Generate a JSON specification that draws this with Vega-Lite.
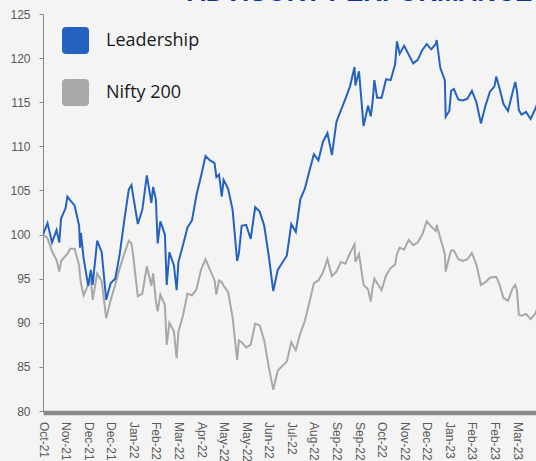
{
  "$schema": "https://vega.github.io/schema/vega-lite/v6.json",
  "width": 493,
  "height": 397,
  "autosize": "none",
  "padding": {"left": 43, "top": 14, "right": 0, "bottom": 50},
  "background": "#f4f4f4",
  "config": {"view": {"stroke": null}},
  "title": {"text": "ADVISORY PERFORMANCE", "anchor": "start", "frame": "group", "dx": 144, "offset": 2, "font": "Liberation Sans", "fontSize": 26, "fontWeight": "bold", "color": "#0b35a0"},
  "data": {"values": [
    {"d":"2021-10-14","Leadership":100.0,"Nifty 200":100.0},
    {"d":"2021-10-19","Leadership":101.3,"Nifty 200":99.6},
    {"d":"2021-10-24","Leadership":99.1,"Nifty 200":98.1},
    {"d":"2021-10-29","Leadership":100.5,"Nifty 200":97.1},
    {"d":"2021-11-01","Leadership":99.1,"Nifty 200":95.8},
    {"d":"2021-11-03","Leadership":101.8,"Nifty 200":97.0},
    {"d":"2021-11-08","Leadership":103.0,"Nifty 200":97.6},
    {"d":"2021-11-10","Leadership":104.3,"Nifty 200":97.8},
    {"d":"2021-11-13","Leadership":103.9,"Nifty 200":98.4},
    {"d":"2021-11-18","Leadership":103.3,"Nifty 200":98.4},
    {"d":"2021-11-23","Leadership":101.0,"Nifty 200":96.5},
    {"d":"2021-11-24","Leadership":98.5,"Nifty 200":95.3},
    {"d":"2021-11-25","Leadership":100.2,"Nifty 200":94.5},
    {"d":"2021-11-28","Leadership":97.3,"Nifty 200":93.1},
    {"d":"2021-12-03","Leadership":94.2,"Nifty 200":94.3},
    {"d":"2021-12-06","Leadership":96.0,"Nifty 200":95.0},
    {"d":"2021-12-08","Leadership":94.3,"Nifty 200":92.6},
    {"d":"2021-12-13","Leadership":99.3,"Nifty 200":95.6},
    {"d":"2021-12-18","Leadership":98.0,"Nifty 200":94.7},
    {"d":"2021-12-23","Leadership":92.6,"Nifty 200":90.5},
    {"d":"2021-12-28","Leadership":94.5,"Nifty 200":92.6},
    {"d":"2022-01-02","Leadership":95.0,"Nifty 200":94.3},
    {"d":"2022-01-07","Leadership":97.8,"Nifty 200":96.2},
    {"d":"2022-01-12","Leadership":101.6,"Nifty 200":97.8},
    {"d":"2022-01-17","Leadership":105.1,"Nifty 200":99.3},
    {"d":"2022-01-20","Leadership":105.6,"Nifty 200":99.0},
    {"d":"2022-01-22","Leadership":104.3,"Nifty 200":97.5},
    {"d":"2022-01-27","Leadership":101.2,"Nifty 200":93.0},
    {"d":"2022-02-01","Leadership":102.8,"Nifty 200":93.3},
    {"d":"2022-02-06","Leadership":106.7,"Nifty 200":96.4},
    {"d":"2022-02-11","Leadership":103.6,"Nifty 200":94.2},
    {"d":"2022-02-13","Leadership":105.4,"Nifty 200":95.6},
    {"d":"2022-02-16","Leadership":104.0,"Nifty 200":92.5},
    {"d":"2022-02-18","Leadership":99.0,"Nifty 200":91.3},
    {"d":"2022-02-21","Leadership":101.5,"Nifty 200":93.2},
    {"d":"2022-02-26","Leadership":100.0,"Nifty 200":92.0},
    {"d":"2022-02-28","Leadership":94.3,"Nifty 200":87.5},
    {"d":"2022-03-03","Leadership":98.0,"Nifty 200":90.0},
    {"d":"2022-03-08","Leadership":96.5,"Nifty 200":89.0},
    {"d":"2022-03-11","Leadership":93.7,"Nifty 200":86.0},
    {"d":"2022-03-13","Leadership":96.9,"Nifty 200":89.0},
    {"d":"2022-03-18","Leadership":98.8,"Nifty 200":90.8},
    {"d":"2022-03-23","Leadership":100.8,"Nifty 200":93.3},
    {"d":"2022-03-28","Leadership":101.6,"Nifty 200":93.1},
    {"d":"2022-04-02","Leadership":104.5,"Nifty 200":93.8},
    {"d":"2022-04-07","Leadership":106.6,"Nifty 200":96.0},
    {"d":"2022-04-12","Leadership":108.9,"Nifty 200":97.2},
    {"d":"2022-04-17","Leadership":108.4,"Nifty 200":96.0},
    {"d":"2022-04-22","Leadership":108.1,"Nifty 200":94.8},
    {"d":"2022-04-24","Leadership":106.5,"Nifty 200":93.2},
    {"d":"2022-04-27","Leadership":106.8,"Nifty 200":94.8},
    {"d":"2022-04-30","Leadership":104.3,"Nifty 200":94.6},
    {"d":"2022-05-02","Leadership":106.2,"Nifty 200":94.2},
    {"d":"2022-05-07","Leadership":105.2,"Nifty 200":93.5},
    {"d":"2022-05-12","Leadership":102.8,"Nifty 200":90.6},
    {"d":"2022-05-17","Leadership":97.0,"Nifty 200":85.8},
    {"d":"2022-05-19","Leadership":97.9,"Nifty 200":88.0},
    {"d":"2022-05-22","Leadership":101.0,"Nifty 200":87.8},
    {"d":"2022-05-27","Leadership":101.1,"Nifty 200":87.2},
    {"d":"2022-06-01","Leadership":99.5,"Nifty 200":87.5},
    {"d":"2022-06-06","Leadership":103.1,"Nifty 200":89.9},
    {"d":"2022-06-11","Leadership":102.6,"Nifty 200":89.7},
    {"d":"2022-06-16","Leadership":101.0,"Nifty 200":88.0},
    {"d":"2022-06-21","Leadership":97.6,"Nifty 200":85.0},
    {"d":"2022-06-26","Leadership":93.6,"Nifty 200":82.4},
    {"d":"2022-07-01","Leadership":96.0,"Nifty 200":84.6},
    {"d":"2022-07-06","Leadership":96.8,"Nifty 200":85.1},
    {"d":"2022-07-11","Leadership":97.6,"Nifty 200":85.6},
    {"d":"2022-07-16","Leadership":101.2,"Nifty 200":87.8},
    {"d":"2022-07-21","Leadership":100.3,"Nifty 200":86.9},
    {"d":"2022-07-26","Leadership":104.0,"Nifty 200":88.8},
    {"d":"2022-07-31","Leadership":105.2,"Nifty 200":90.2},
    {"d":"2022-08-05","Leadership":107.2,"Nifty 200":92.3},
    {"d":"2022-08-10","Leadership":109.1,"Nifty 200":94.5},
    {"d":"2022-08-15","Leadership":108.4,"Nifty 200":94.8},
    {"d":"2022-08-20","Leadership":110.5,"Nifty 200":95.7},
    {"d":"2022-08-25","Leadership":111.5,"Nifty 200":97.2},
    {"d":"2022-08-30","Leadership":109.0,"Nifty 200":95.3},
    {"d":"2022-09-04","Leadership":112.8,"Nifty 200":95.8},
    {"d":"2022-09-09","Leadership":114.1,"Nifty 200":96.9},
    {"d":"2022-09-14","Leadership":115.4,"Nifty 200":96.7},
    {"d":"2022-09-19","Leadership":116.8,"Nifty 200":97.9},
    {"d":"2022-09-24","Leadership":119.0,"Nifty 200":98.9},
    {"d":"2022-09-25","Leadership":116.9,"Nifty 200":96.9},
    {"d":"2022-09-29","Leadership":118.5,"Nifty 200":97.8},
    {"d":"2022-10-04","Leadership":112.3,"Nifty 200":94.3},
    {"d":"2022-10-09","Leadership":114.6,"Nifty 200":93.8},
    {"d":"2022-10-12","Leadership":113.4,"Nifty 200":92.4},
    {"d":"2022-10-14","Leadership":115.0,"Nifty 200":94.0},
    {"d":"2022-10-16","Leadership":117.5,"Nifty 200":95.0},
    {"d":"2022-10-19","Leadership":115.5,"Nifty 200":94.5},
    {"d":"2022-10-24","Leadership":115.5,"Nifty 200":93.7},
    {"d":"2022-10-29","Leadership":117.6,"Nifty 200":95.4},
    {"d":"2022-11-03","Leadership":117.5,"Nifty 200":96.2},
    {"d":"2022-11-08","Leadership":119.3,"Nifty 200":96.6},
    {"d":"2022-11-10","Leadership":121.9,"Nifty 200":97.8},
    {"d":"2022-11-13","Leadership":120.5,"Nifty 200":98.5},
    {"d":"2022-11-18","Leadership":121.4,"Nifty 200":98.3},
    {"d":"2022-11-23","Leadership":120.4,"Nifty 200":99.4},
    {"d":"2022-11-28","Leadership":119.4,"Nifty 200":98.8},
    {"d":"2022-12-03","Leadership":119.8,"Nifty 200":99.1},
    {"d":"2022-12-08","Leadership":120.9,"Nifty 200":100.0},
    {"d":"2022-12-13","Leadership":121.6,"Nifty 200":101.5},
    {"d":"2022-12-18","Leadership":121.0,"Nifty 200":100.9},
    {"d":"2022-12-23","Leadership":121.6,"Nifty 200":100.4},
    {"d":"2022-12-24","Leadership":122.05,"Nifty 200":101.1},
    {"d":"2022-12-28","Leadership":118.9,"Nifty 200":99.6},
    {"d":"2023-01-02","Leadership":117.5,"Nifty 200":97.8},
    {"d":"2023-01-03","Leadership":113.35,"Nifty 200":95.8},
    {"d":"2023-01-07","Leadership":114.0,"Nifty 200":97.5},
    {"d":"2023-01-09","Leadership":116.3,"Nifty 200":98.2},
    {"d":"2023-01-12","Leadership":116.5,"Nifty 200":98.2},
    {"d":"2023-01-17","Leadership":115.3,"Nifty 200":97.2},
    {"d":"2023-01-22","Leadership":115.2,"Nifty 200":97.0},
    {"d":"2023-01-27","Leadership":115.4,"Nifty 200":97.2},
    {"d":"2023-02-01","Leadership":116.3,"Nifty 200":97.9},
    {"d":"2023-02-06","Leadership":115.0,"Nifty 200":96.6},
    {"d":"2023-02-11","Leadership":112.6,"Nifty 200":94.3},
    {"d":"2023-02-16","Leadership":114.6,"Nifty 200":94.6},
    {"d":"2023-02-21","Leadership":116.2,"Nifty 200":95.1},
    {"d":"2023-02-26","Leadership":116.8,"Nifty 200":95.2},
    {"d":"2023-02-28","Leadership":117.9,"Nifty 200":95.2},
    {"d":"2023-03-03","Leadership":116.8,"Nifty 200":94.5},
    {"d":"2023-03-08","Leadership":114.8,"Nifty 200":92.8},
    {"d":"2023-03-13","Leadership":114.0,"Nifty 200":92.5},
    {"d":"2023-03-18","Leadership":116.1,"Nifty 200":93.9},
    {"d":"2023-03-21","Leadership":117.3,"Nifty 200":94.3},
    {"d":"2023-03-23","Leadership":116.2,"Nifty 200":93.6},
    {"d":"2023-03-25","Leadership":114.1,"Nifty 200":90.9},
    {"d":"2023-03-28","Leadership":113.6,"Nifty 200":90.8},
    {"d":"2023-04-02","Leadership":113.9,"Nifty 200":91.0},
    {"d":"2023-04-07","Leadership":113.1,"Nifty 200":90.4},
    {"d":"2023-04-12","Leadership":114.2,"Nifty 200":91.0},
    {"d":"2023-04-17","Leadership":115.5,"Nifty 200":92.3}
  ]},
  "transform": [{"fold": ["Nifty 200", "Leadership"], "as": ["series", "value"]}],
  "mark": {"type": "line", "strokeWidth": 2, "clip": true},
  "encoding": {
    "x": {
      "field": "d", "type": "temporal",
      "scale": {"type": "utc", "domain": [{"year": 2021, "month": 10, "date": 14, "utc": true}, {"year": 2023, "month": 4, "date": 13, "utc": true}]},
      "axis": {
        "title": null, "labelExpr": "utcFormat(datum.value, '%b-%y')", "labelAngle": 90,
        "values": [
          {"year": 2021, "month": 10, "date": 14, "utc": true},
          {"year": 2021, "month": 11, "date": 8, "utc": true},
          {"year": 2021, "month": 12, "date": 3, "utc": true},
          {"year": 2021, "month": 12, "date": 28, "utc": true},
          {"year": 2022, "month": 1, "date": 22, "utc": true},
          {"year": 2022, "month": 2, "date": 16, "utc": true},
          {"year": 2022, "month": 3, "date": 13, "utc": true},
          {"year": 2022, "month": 4, "date": 7, "utc": true},
          {"year": 2022, "month": 5, "date": 2, "utc": true},
          {"year": 2022, "month": 5, "date": 27, "utc": true},
          {"year": 2022, "month": 6, "date": 21, "utc": true},
          {"year": 2022, "month": 7, "date": 16, "utc": true},
          {"year": 2022, "month": 8, "date": 10, "utc": true},
          {"year": 2022, "month": 9, "date": 4, "utc": true},
          {"year": 2022, "month": 9, "date": 29, "utc": true},
          {"year": 2022, "month": 10, "date": 24, "utc": true},
          {"year": 2022, "month": 11, "date": 18, "utc": true},
          {"year": 2022, "month": 12, "date": 13, "utc": true},
          {"year": 2023, "month": 1, "date": 7, "utc": true},
          {"year": 2023, "month": 2, "date": 1, "utc": true},
          {"year": 2023, "month": 2, "date": 26, "utc": true},
          {"year": 2023, "month": 3, "date": 23, "utc": true}
        ],
        "grid": false, "ticks": false, "tickSize": 0, "labelPadding": 9,
        "domainColor": "#898989", "domainWidth": 4.5, "offset": 1.5,
        "labelFont": "Liberation Sans", "labelFontSize": 12, "labelColor": "#595959",
        "labelOverlap": false, "labelFlush": false
      }
    },
    "y": {
      "field": "value", "type": "quantitative",
      "scale": {"domain": [80, 125], "nice": false, "zero": false},
      "axis": {
        "title": null, "values": [80, 85, 90, 95, 100, 105, 110, 115, 120, 125],
        "grid": false, "tickSize": 4, "tickColor": "#868686", "domainColor": "#868686",
        "labelPadding": 9, "labelFont": "Liberation Sans", "labelFontSize": 12, "labelColor": "#595959"
      }
    },
    "color": {
      "field": "series", "type": "nominal",
      "scale": {"domain": ["Leadership", "Nifty 200"], "range": ["#2462c1", "#a8a8a8"]},
      "legend": {
        "orient": "none", "legendX": 19, "legendY": 13, "title": null, "padding": 0,
        "symbolType": "M -0.7 -1 L 0.7 -1 Q 1 -1 1 -0.7 L 1 0.7 Q 1 1 0.7 1 L -0.7 1 Q -1 1 -1 0.7 L -1 -0.7 Q -1 -1 -0.7 -1 Z",
        "symbolSize": 729, "symbolStrokeWidth": 0, "rowPadding": 25, "labelOffset": 17,
        "labelFont": "Open Sans", "labelFontSize": 18, "labelColor": "#1a1a1a",
        "encode": {"symbols": {"update": {"fill": {"scale": "color", "field": "value"}, "fillOpacity": {"value": 1}, "strokeWidth": {"value": 0}}}}
      }
    }
  }
}
